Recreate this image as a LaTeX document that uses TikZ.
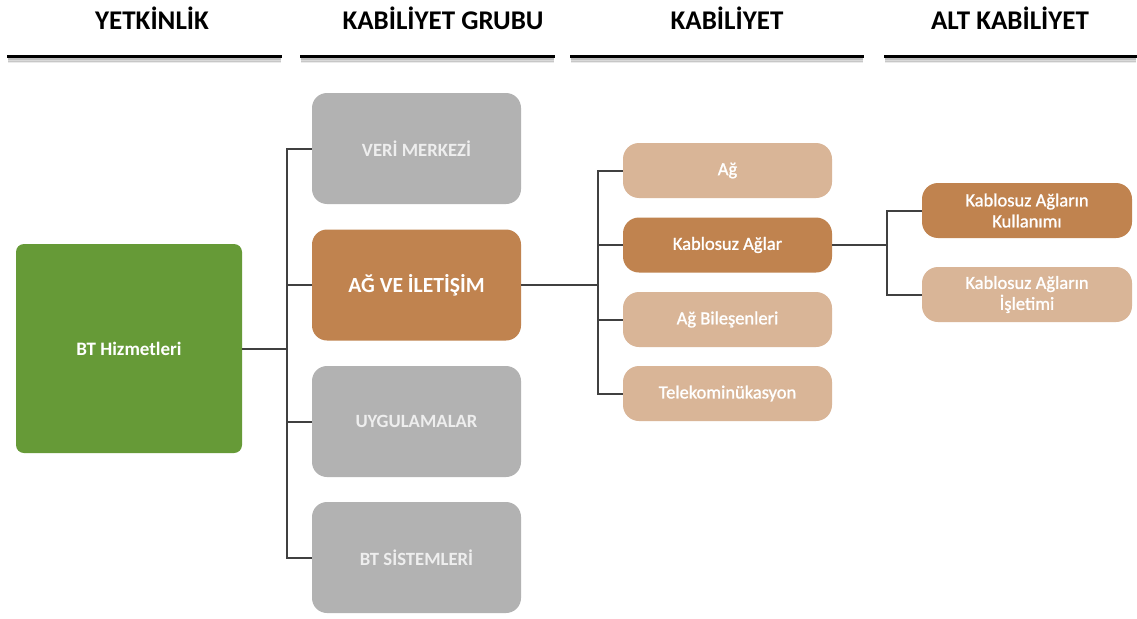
\documentclass[tikz,border=0pt]{standalone}
\usepackage{fontspec}
\setmainfont{Carlito}
\newfontfamily\semib[FakeBold=1.2]{Carlito}
\definecolor{cgreen}{HTML}{669A37}
\definecolor{cgray}{HTML}{B2B2B2}
\definecolor{cgraytext}{HTML}{EEEEEE}
\definecolor{cbrown}{HTML}{C0834F}
\definecolor{ctan}{HTML}{D9B597}
\definecolor{cline}{HTML}{404040}
\tikzset{
  box/.style={draw=none, rounded corners=#1, inner sep=0pt, align=center, text=white},
  hdr/.style={font=\bfseries\fontsize{27}{32}\selectfont, text=black, anchor=center},
  conn/.style={draw=cline, line width=2pt},
  hline/.style={line width=3pt, black},
  small/.style={font=\semib\fontsize{18.5}{21}\selectfont},
}
\begin{document}
\begin{tikzpicture}[x=1pt,y=-1pt]
\useasboundingbox (0,0) rectangle (1137,618);
\fill[white] (0,0) rectangle (1137,618);

% headers
\node[hdr] (h1) at (152,18) {YETKİNLİK};
\node[hdr] (h2) at (443,18) {KABİLİYET GRUBU};
\node[hdr] (h3) at (727,18) {KABİLİYET};
\node[hdr] (h4) at (1010,18) {ALT KABİLİYET};

% header rules with soft shadow
\foreach \a/\b in {7/282, 300/555, 570/864, 884/1137}{
  \foreach \d/\o in {2.5/0.25, 4/0.15, 5.5/0.08}{
    \draw[line width=2pt, black, opacity=\o] (\a+1,57+\d) -- (\b-1,57+\d);
  }
  \draw[hline] (\a,57) -- (\b,57);
}

% nodes
\node[box=8pt, fill=cgreen, minimum width=226pt, minimum height=209pt,
      font=\bfseries\fontsize{19}{23}\selectfont] (bt) at (129,348.5) {BT Hizmetleri};

\node[box=15pt, fill=cgray, text=cgraytext, minimum width=209pt, minimum height=111pt,
      font=\bfseries\fontsize{18.7}{22}\selectfont] (veri) at (416.5,148.5) {VERİ MERKEZİ};
\node[box=15pt, fill=cbrown, minimum width=209pt, minimum height=111pt,
      font=\bfseries\fontsize{21.6}{26}\selectfont] (ag) at (416.5,285) {AĞ VE İLETİŞİM};
\node[box=15pt, fill=cgray, text=cgraytext, minimum width=209pt, minimum height=111pt,
      font=\bfseries\fontsize{18.7}{22}\selectfont] (uyg) at (416.5,421.5) {UYGULAMALAR};
\node[box=15pt, fill=cgray, text=cgraytext, minimum width=209pt, minimum height=111pt,
      font=\bfseries\fontsize{18.7}{22}\selectfont] (bts) at (416.5,557.5) {BT SİSTEMLERİ};

\node[box=16pt, fill=ctan, minimum width=209pt, minimum height=55pt, small] (k1) at (727.5,170.5) {Ağ};
\node[box=16pt, fill=cbrown, minimum width=209pt, minimum height=55pt, small] (k2) at (727.5,245) {Kablosuz Ağlar};
\node[box=16pt, fill=ctan, minimum width=209pt, minimum height=55pt, small] (k3) at (727.5,319.5) {Ağ Bileşenleri};
\node[box=16pt, fill=ctan, minimum width=209pt, minimum height=55pt, small] (k4) at (727.5,393.5) {Telekominükasyon};

\node[box=16pt, fill=cbrown, minimum width=210pt, minimum height=55pt, small] (a1) at (1027,210.5) {Kablosuz Ağların\\Kullanımı};
\node[box=16pt, fill=ctan, minimum width=210pt, minimum height=55pt, small] (a2) at (1027,294.5) {Kablosuz Ağların\\İşletimi};

% connectors
\coordinate (b1) at (287,0);
\coordinate (b2) at (598,0);
\coordinate (b3) at (887,0);
\draw[conn] (bt.east) -- (bt.east -| b1);
\draw[conn] (veri.west) -- (veri.west -| b1) -- (bts.west -| b1) -- (bts.west);
\draw[conn] (ag.west) -- (ag.west -| b1);
\draw[conn] (uyg.west) -- (uyg.west -| b1);

\draw[conn] (ag.east) -- (ag.east -| b2);
\draw[conn] (k1.west) -- (k1.west -| b2) -- (k4.west -| b2) -- (k4.west);
\draw[conn] (k2.west) -- (k2.west -| b2);
\draw[conn] (k3.west) -- (k3.west -| b2);

\draw[conn] (k2.east) -- (k2.east -| b3);
\draw[conn] (a1.west) -- (a1.west -| b3) -- (a2.west -| b3) -- (a2.west);
\end{tikzpicture}
\end{document}
